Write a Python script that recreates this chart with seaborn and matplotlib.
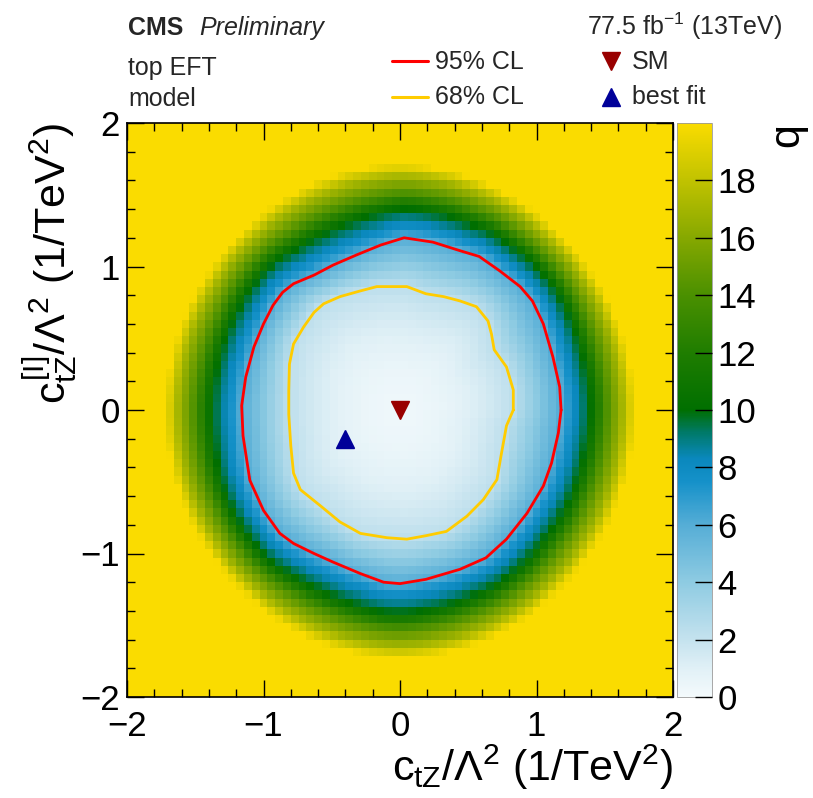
import numpy as np
import pandas as pd
import matplotlib
matplotlib.use("Agg")
import matplotlib.pyplot as plt
import seaborn as sns
from matplotlib.colors import LinearSegmentedColormap
from matplotlib.lines import Line2D
from matplotlib.ticker import MultipleLocator

# ---------------- data ----------------
# 95% CL contour points (c_tZ, c_tZ^[I])
c95_x = [1.18, 1.17, 1.12, 1.05, 0.97, 0.88, 0.73, 0.58, 0.44, 0.24, 0.03,
         -0.14, -0.32, -0.49, -0.63, -0.78, -0.86, -0.93, -1.00, -1.07, -1.13, -1.16,
         -1.15, -1.10, -1.00, -0.88, -0.78, -0.63, -0.49, -0.29, -0.12, 0.00,
         0.19, 0.44, 0.63, 0.78, 0.93, 1.05, 1.11, 1.16]
c95_y = [0.00, 0.16, 0.37, 0.60, 0.76, 0.86, 0.97, 1.07, 1.11, 1.17, 1.20,
         1.15, 1.08, 1.01, 0.94, 0.88, 0.82, 0.73, 0.60, 0.44, 0.23, 0.03,
         -0.18, -0.49, -0.70, -0.86, -0.93, -1.00, -1.06, -1.14, -1.20, -1.21,
         -1.18, -1.11, -1.03, -0.90, -0.72, -0.53, -0.37, -0.16]
# 68% CL contour points
c68_x = [0.83, 0.83, 0.78, 0.69, 0.67, 0.645, 0.56, 0.44, 0.32, 0.19, 0.05,
         -0.05, -0.17, -0.29, -0.44, -0.56, -0.63, -0.705, -0.78, -0.81, -0.815, -0.815,
         -0.80, -0.78, -0.73, -0.58, -0.44, -0.29, -0.095, 0.05,
         0.19, 0.34, 0.49, 0.61, 0.71, 0.74, 0.78]
c68_y = [0.00, 0.14, 0.30, 0.42, 0.53, 0.62, 0.72, 0.76, 0.79, 0.81, 0.86,
         0.86, 0.86, 0.83, 0.79, 0.74, 0.68, 0.58, 0.46, 0.32, 0.135, -0.03,
         -0.25, -0.44, -0.555, -0.67, -0.78, -0.86, -0.89, -0.90,
         -0.876, -0.846, -0.74, -0.625, -0.485, -0.32, -0.11]
# radius where q reaches the top of the colour scale, by direction (deg)
edge_theta = [0, 45, 90, 135, 180, 225, 270, 315, 360]
edge_r = [1.71, 1.68, 1.70, 1.68, 1.71, 1.70, 1.72, 1.70, 1.71]
# q profile outside the 95% contour (fraction of the way to the edge)
out_u = [0.0, 0.18, 0.40, 0.62, 0.85, 1.0, 1.2]
out_q = [5.99, 8.0, 10.0, 14.0, 17.0, 19.6, 24.0]
q_center = 0.3
q68, q95 = 2.30, 5.99

sm_point = (0.0, 0.0)
bestfit_point = (-0.40, -0.20)

cbar_ticks = [0, 2, 4, 6, 8, 10, 12, 14, 16, 18]
axis_ticks = [-2, -1, 0, 1, 2]
n_bins = 70

# colour palette nodes (q value, colour)
pal_q = [0, 1, 2, 4, 6, 7.5, 8.3, 9.2, 10, 12, 14, 16, 18, 20]
pal_c = ['#f4fafc', '#e0f0f6', '#c4e2ee', '#8ecbe2', '#55add6', '#1591c9',
         '#0a88bd', '#007a6a', '#006f00', '#1f7d00', '#4a9000', '#86a800',
         '#c0c200', '#fadc00']

# ---------------- build grid of q ----------------
def radius_fn(xs, ys):
    xs = np.asarray(xs); ys = np.asarray(ys)
    th = np.arctan2(ys, xs)
    r = np.hypot(xs, ys)
    o = np.argsort(th)
    return th[o], r[o]

th95, r95p = radius_fn(c95_x, c95_y)
th68, r68p = radius_fn(c68_x, c68_y)

edges = np.linspace(-2, 2, n_bins + 1)
cent = 0.5 * (edges[:-1] + edges[1:])
X, Y = np.meshgrid(cent, cent)
TH = np.arctan2(Y, X)
R = np.hypot(X, Y)
R95 = np.interp(TH, th95, r95p, period=2 * np.pi)
R68 = np.interp(TH, th68, r68p, period=2 * np.pi)
RE = np.interp(np.degrees(TH) % 360, edge_theta, edge_r)

Q = np.empty_like(R)
inner = R < R68
mid = (R >= R68) & (R < R95)
outer = R >= R95
Q[inner] = q_center + (q68 - q_center) * (R[inner] / R68[inner]) ** 2
Q[mid] = q68 + (q95 - q68) * (R[mid] - R68[mid]) / (R95[mid] - R68[mid])
U = (R[outer] - R95[outer]) / (RE[outer] - R95[outer])
Q[outer] = np.interp(U, out_u, out_q)

df = pd.DataFrame({"x": X.ravel(), "y": Y.ravel(), "q": Q.ravel()})

# ---------------- style ----------------
sns.set_style("white")
plt.rcParams["font.family"] = ["Liberation Sans", "DejaVu Sans"]
plt.rcParams["mathtext.fontset"] = "custom"
plt.rcParams["mathtext.rm"] = "Liberation Sans"
plt.rcParams["mathtext.it"] = "Liberation Sans"
plt.rcParams["mathtext.bf"] = "Liberation Sans:bold"
plt.rcParams["axes.axisbelow"] = False

cmap = LinearSegmentedColormap.from_list(
    "root", list(zip(np.array(pal_q) / 20.0, pal_c)), N=512)

W, H = 813, 798
fig = plt.figure(figsize=(W / 100, H / 100), dpi=100)
ax = fig.add_axes([127 / W, 101 / H, 546 / W, 574 / H])
cax = fig.add_axes([677 / W, 101 / H, 35 / W, 574 / H])

sns.histplot(data=df, x="x", y="y", weights="q", bins=n_bins,
             binrange=((-2, 2), (-2, 2)), cmap=cmap, vmin=0, vmax=20,
             thresh=None, cbar=True, cbar_ax=cax, ax=ax)

# contours
ax.plot(list(c95_x) + [c95_x[0]], list(c95_y) + [c95_y[0]], color="#ff0000",
        lw=2.0, solid_joinstyle="round", zorder=5)
ax.plot(list(c68_x) + [c68_x[0]], list(c68_y) + [c68_y[0]], color="#ffcc00",
        lw=2.0, solid_joinstyle="round", zorder=5)
ax.plot([sm_point[0]], [sm_point[1]], marker="v", ms=13, color="#990000",
        ls="none", zorder=6)
ax.plot([bestfit_point[0]], [bestfit_point[1]], marker="^", ms=13,
        color="#000099", ls="none", zorder=6)

ax.set_axisbelow(False)
ax.set_xlim(-2, 2)
ax.set_ylim(-2, 2)
ax.set_xticks(axis_ticks)
ax.set_yticks(axis_ticks)
ax.xaxis.set_minor_locator(MultipleLocator(0.2))
ax.yaxis.set_minor_locator(MultipleLocator(0.2))
ax.tick_params(which="both", direction="in", bottom=True, left=True,
               top=True, right=True, color="black", width=1.0)
ax.tick_params(which="major", length=12, labelsize=25, labelcolor="black")
ax.tick_params(axis="x", which="major", pad=9)
ax.tick_params(axis="y", which="major", pad=5)
ax.tick_params(which="minor", length=6)
for s in ax.spines.values():
    s.set_color("black")
    s.set_linewidth(1.2)

ax.set_xlabel(r"$c_{tZ}/\Lambda^2$ (1/TeV$^2$)", fontsize=31, loc="right",
              labelpad=0, color="black")
ax.set_ylabel(r"$c^{[I]}_{tZ}/\Lambda^2$ (1/TeV$^2$)", fontsize=31, loc="top",
              labelpad=0, color="black")

# colorbar axis
cax.set_axisbelow(False)
cax.set_yticks(cbar_ticks)
cax.tick_params(axis="y", which="major", direction="in", length=12, width=1.0,
                right=True, left=False, labelright=True, labelleft=False,
                labelsize=25, pad=4, color="black", labelcolor="black")
cax.tick_params(axis="y", which="minor", right=False, left=False)
cax.set_ylabel("q", fontsize=31, loc="top", labelpad=8, color="black")
cax.yaxis.set_label_position("right")
for s in cax.spines.values():
    s.set_linewidth(0.6)
    s.set_color("#999999")

# header texts
def fy(py):
    return 1 - py / H

fig.text(128 / W, fy(35), "CMS", fontsize=18, fontweight="bold", va="baseline")
fig.text(199 / W, fy(35), "Preliminary", fontsize=18, style="italic", va="baseline")
fig.text(782 / W, fy(35), r"77.5 fb$^{-1}$ (13TeV)", fontsize=18,
         ha="right", va="baseline")
fig.text(128 / W, fy(75), "top EFT", fontsize=18, va="baseline")
fig.text(128 / W, fy(106), "model", fontsize=18, va="baseline")

fig.add_artist(Line2D([392 / W, 428 / W], [fy(61), fy(61)], color="#ff0000",
                      lw=2.2, transform=fig.transFigure))
fig.add_artist(Line2D([392 / W, 428 / W], [fy(97), fy(97)], color="#ffcc00",
                      lw=2.2, transform=fig.transFigure))
fig.text(435 / W, fy(69), "95% CL", fontsize=18, va="baseline")
fig.text(435 / W, fy(104), "68% CL", fontsize=18, va="baseline")
fig.add_artist(Line2D([611 / W], [fy(61)], marker="v", ms=13, color="#990000",
                      ls="none", transform=fig.transFigure))
fig.add_artist(Line2D([611 / W], [fy(97)], marker="^", ms=13, color="#000099",
                      ls="none", transform=fig.transFigure))
fig.text(632 / W, fy(69), "SM", fontsize=18, va="baseline")
fig.text(632 / W, fy(104), "best fit", fontsize=18, va="baseline")

fig.savefig("out.png", dpi=100)
